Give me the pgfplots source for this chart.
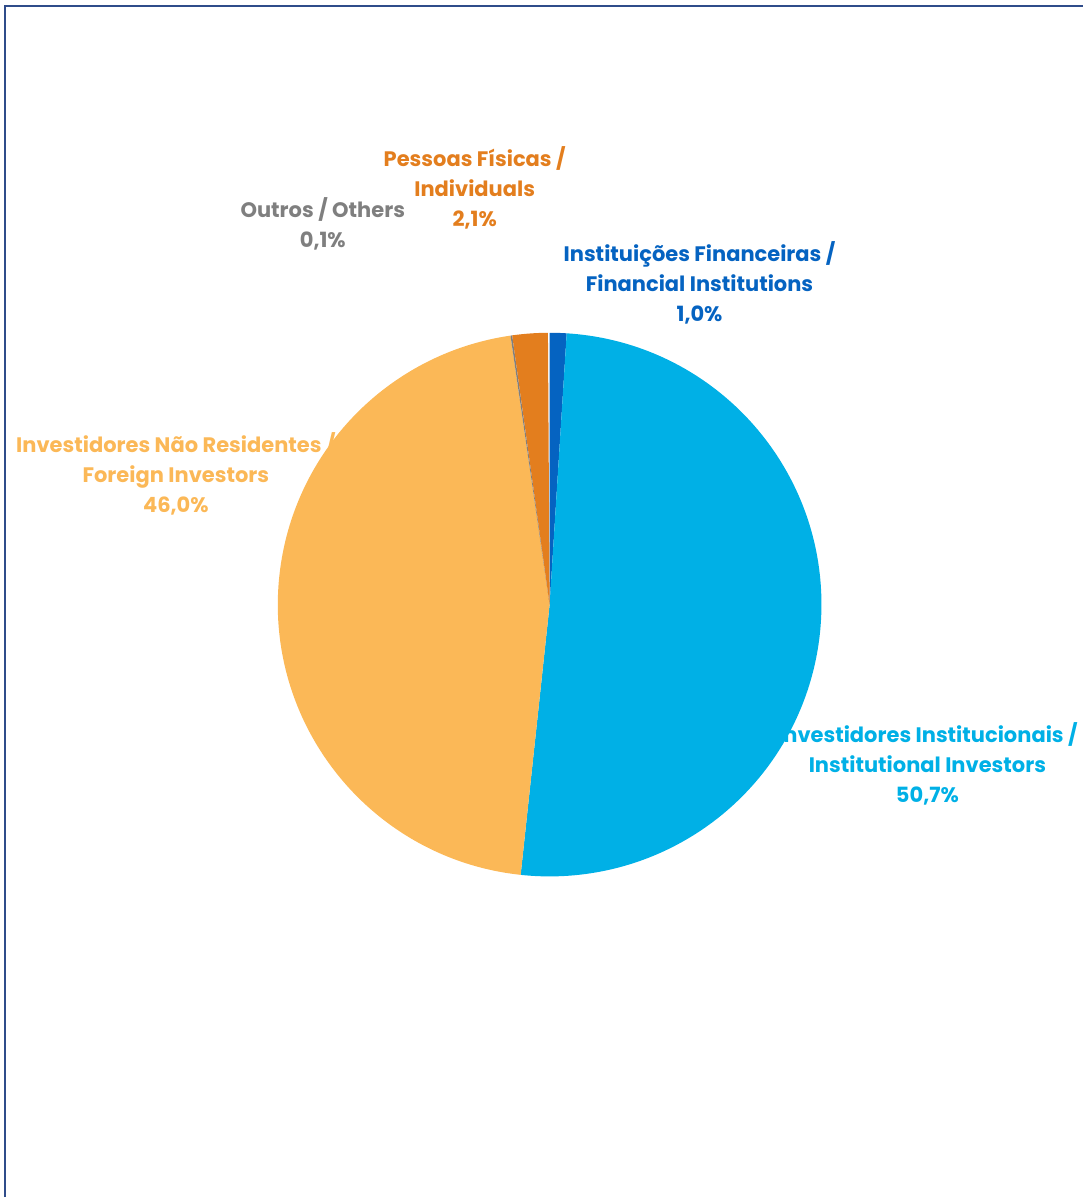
\documentclass[border=0pt]{standalone}
\usepackage{pgfplots}
\pgfplotsset{compat=1.18}
\usepackage{pgfplotstable}
\usepackage{fontspec}
\setmainfont{Poppins}

\definecolor{cFin}{HTML}{0563C1}
\definecolor{cInst}{HTML}{00B0E6}
\definecolor{cFor}{HTML}{FBB857}
\definecolor{cOth}{HTML}{7F7F7F}
\definecolor{cInd}{HTML}{E37E1E}
\definecolor{frame}{HTML}{2F4C8A}

% shares in %, clockwise from the top
\pgfplotstableread{
share
1.0
50.7
46.0
0.1
2.1
}\shares

\newcommand\getshare[2]{\pgfplotstablegetelem{#1}{share}\of\shares\pgfmathsetmacro#2{\pgfplotsretval}}
\getshare{0}\sA \getshare{1}\sB \getshare{2}\sC \getshare{3}\sD \getshare{4}\sE
\pgfmathsetmacro\aA{90}
\pgfmathsetmacro\aB{\aA-3.6*\sA}
\pgfmathsetmacro\aC{\aB-3.6*\sB}
\pgfmathsetmacro\aD{\aC-3.6*\sC}
\pgfmathsetmacro\aE{\aD-3.6*\sD}
\pgfmathsetmacro\aF{\aE-3.6*\sE}

\newcommand\slice[3]{%
  \fill[#1] (axis cs:550,593) -- ([shift={(#2:272pt)}]axis cs:550,593)
    arc[start angle=#2, end angle=#3, radius=272pt] -- cycle;}

\tikzset{lab/.style={font=\bfseries\fontsize{21}{30}\selectfont, align=center, inner sep=0pt}}

\begin{document}
\begin{tikzpicture}
\begin{axis}[
  width=1084pt, height=1198pt, scale only axis,
  xmin=0, xmax=1084, ymin=0, ymax=1198,
  hide axis, clip=false,
]
\path (axis cs:0,0) rectangle (axis cs:1084,1198);
% labels first: the pie covers their ends
\node[lab, text=cInd] at (axis cs:475,1010) {Pessoas Físicas /\\Individuals\\2,1\%};
\node[lab, text=cOth] at (axis cs:323,974) {Outros / Others\\0,1\%};
\node[lab, text=cFin] at (axis cs:700,915) {Instituições Financeiras /\\Financial Institutions\\1,0\%};
\node[lab, text=cFor] at (axis cs:176,724) {Investidores Não Residentes /\\Foreign Investors\\46,0\%};
\node[lab, text=cInst] at (axis cs:928,434) {Investidores Institucionais /\\Institutional Investors\\50,7\%};

\slice{cFin}{\aA}{\aB}
\slice{cInst}{\aB}{\aC}
\slice{cFor}{\aC}{\aD}
\slice{cOth}{\aD}{\aE}
\slice{cInd}{\aE}{\aF}

\draw[frame, line width=1.6pt] (axis cs:5,0) -- (axis cs:5,1192) -- (axis cs:1084,1192);
\end{axis}
\end{tikzpicture}
\end{document}
